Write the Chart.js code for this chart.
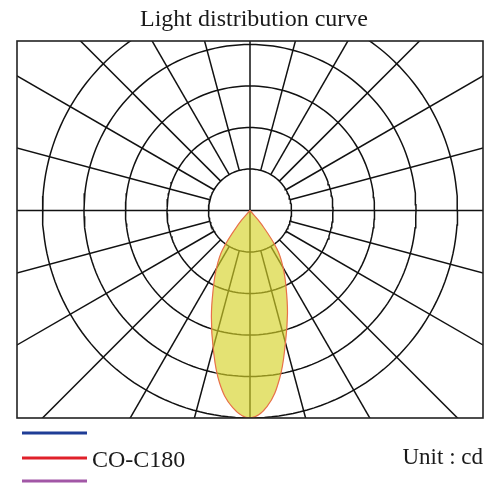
<!DOCTYPE html>
<html lang="en">
<head>
<meta charset="UTF-8">
<script src="https://cdn.jsdelivr.net/npm/chart.js"></script>
<title>Light distribution curve</title>
<style>
    body { margin: 0; background: #fff; }
    .wrap { width: 500px; height: 498px; position: relative; }
</style>
</head>
<body>
<div class="wrap"><canvas id="curve"></canvas></div>
<script>
// intensity (cd) against gamma angle from nadir
const gammaAngles = [0, 5, 10, 15, 20, 25, 30, 35, 40, 45];
const c0Values    = [500, 474, 411, 330, 264, 206, 160, 114, 42, 0];  // right half
const c180Values  = [500, 477, 422, 343, 272, 210, 162, 115, 43, 0];  // left half
const ringValues  = [100, 200, 300, 400, 500];
const spokeStep   = 15;
const legendLabels = ['', 'CO-C180', ''];
const legendColors = ['#1f3d96', '#e0202a', '#a257a6'];
const titleText = 'Light distribution curve';
const unitText = 'Unit : cd';

const rad = d => d * Math.PI / 180;
const GRID = '#111';

// lobe: left half from the tip down to nadir, then right half back up
const lobe = [];
for (let i = gammaAngles.length - 1; i >= 0; i--) {
    const g = rad(gammaAngles[i]), r = c180Values[i];
    lobe.push({x: -r * Math.sin(g), y: -r * Math.cos(g)});
}
for (let i = 1; i < gammaAngles.length; i++) {
    const g = rad(gammaAngles[i]), r = c0Values[i];
    lobe.push({x: r * Math.sin(g), y: -r * Math.cos(g)});
}

const datasets = [{
    label: 'CO-C180',
    data: lobe,
    showLine: true,
    tension: 0.4,
    borderColor: '#e8704a',
    borderWidth: 1.2,
    backgroundColor: 'rgba(214,210,40,0.65)',
    fill: 'shape',
    pointRadius: 0,
    order: 0,
    clip: 0
}];

// rings
ringValues.forEach(r => {
    const pts = [];
    for (let a = 0; a <= 360; a += 2) pts.push({x: r * Math.cos(rad(a)), y: r * Math.sin(rad(a))});
    datasets.push({data: pts, showLine: true, borderColor: GRID, borderWidth: 1.5,
        pointRadius: 0, fill: false, order: 2, clip: 0});
});

// spokes: the two axes pass through the centre, the rest start at the first ring
for (let a = 0; a < 360; a += spokeStep) {
    const r0 = a % 90 === 0 ? 0 : ringValues[0];
    const r1 = 1500;
    datasets.push({
        data: [{x: r0 * Math.cos(rad(a)), y: r0 * Math.sin(rad(a))},
               {x: r1 * Math.cos(rad(a)), y: r1 * Math.sin(rad(a))}],
        showLine: true, borderColor: GRID, borderWidth: 1.5,
        pointRadius: 0, fill: false, order: 2, clip: 0
    });
}

const decor = {
    id: 'decor',
    afterDatasetsDraw(chart) {
        const {ctx, chartArea: a} = chart;
        ctx.save();
        ctx.strokeStyle = '#222';
        ctx.lineWidth = 1.6;
        ctx.strokeRect(a.left, a.top, a.right - a.left, a.bottom - a.top);
        ctx.restore();
    },
    afterDraw(chart) {
        const {ctx} = chart;
        ctx.save();
        ctx.fillStyle = '#1a1a1a';
        ctx.font = '24px "Liberation Serif", "Times New Roman", serif';
        ctx.textAlign = 'center';
        ctx.textBaseline = 'alphabetic';
        ctx.fillText(titleText, 254, 26);

        const rows = [433, 458, 481];
        ctx.lineWidth = 3;
        legendColors.forEach((c, i) => {
            ctx.strokeStyle = c;
            ctx.beginPath();
            ctx.moveTo(22, rows[i]);
            ctx.lineTo(87, rows[i]);
            ctx.stroke();
            if (legendLabels[i]) {
                ctx.textAlign = 'left';
                ctx.fillText(legendLabels[i], 92, rows[i] + 9);
            }
        });

        ctx.font = '23px "Liberation Serif", "Times New Roman", serif';
        ctx.textAlign = 'right';
        ctx.fillText(unitText, 483, 464);
        ctx.restore();
    }
};

new Chart(document.getElementById('curve'), {
    type: 'scatter',
    data: {datasets},
    options: {
        responsive: true,
        maintainAspectRatio: false,
        animation: false,
        layout: {padding: {left: 17, right: 17, top: 41, bottom: 80}},
        scales: {
            x: {type: 'linear', min: -561.4, max: 561.4, display: false},
            y: {type: 'linear', min: -500, max: 408.4, display: false}
        },
        plugins: {legend: {display: false}, tooltip: {enabled: false}},
        events: []
    },
    plugins: [decor]
});
</script>
</body>
</html>
